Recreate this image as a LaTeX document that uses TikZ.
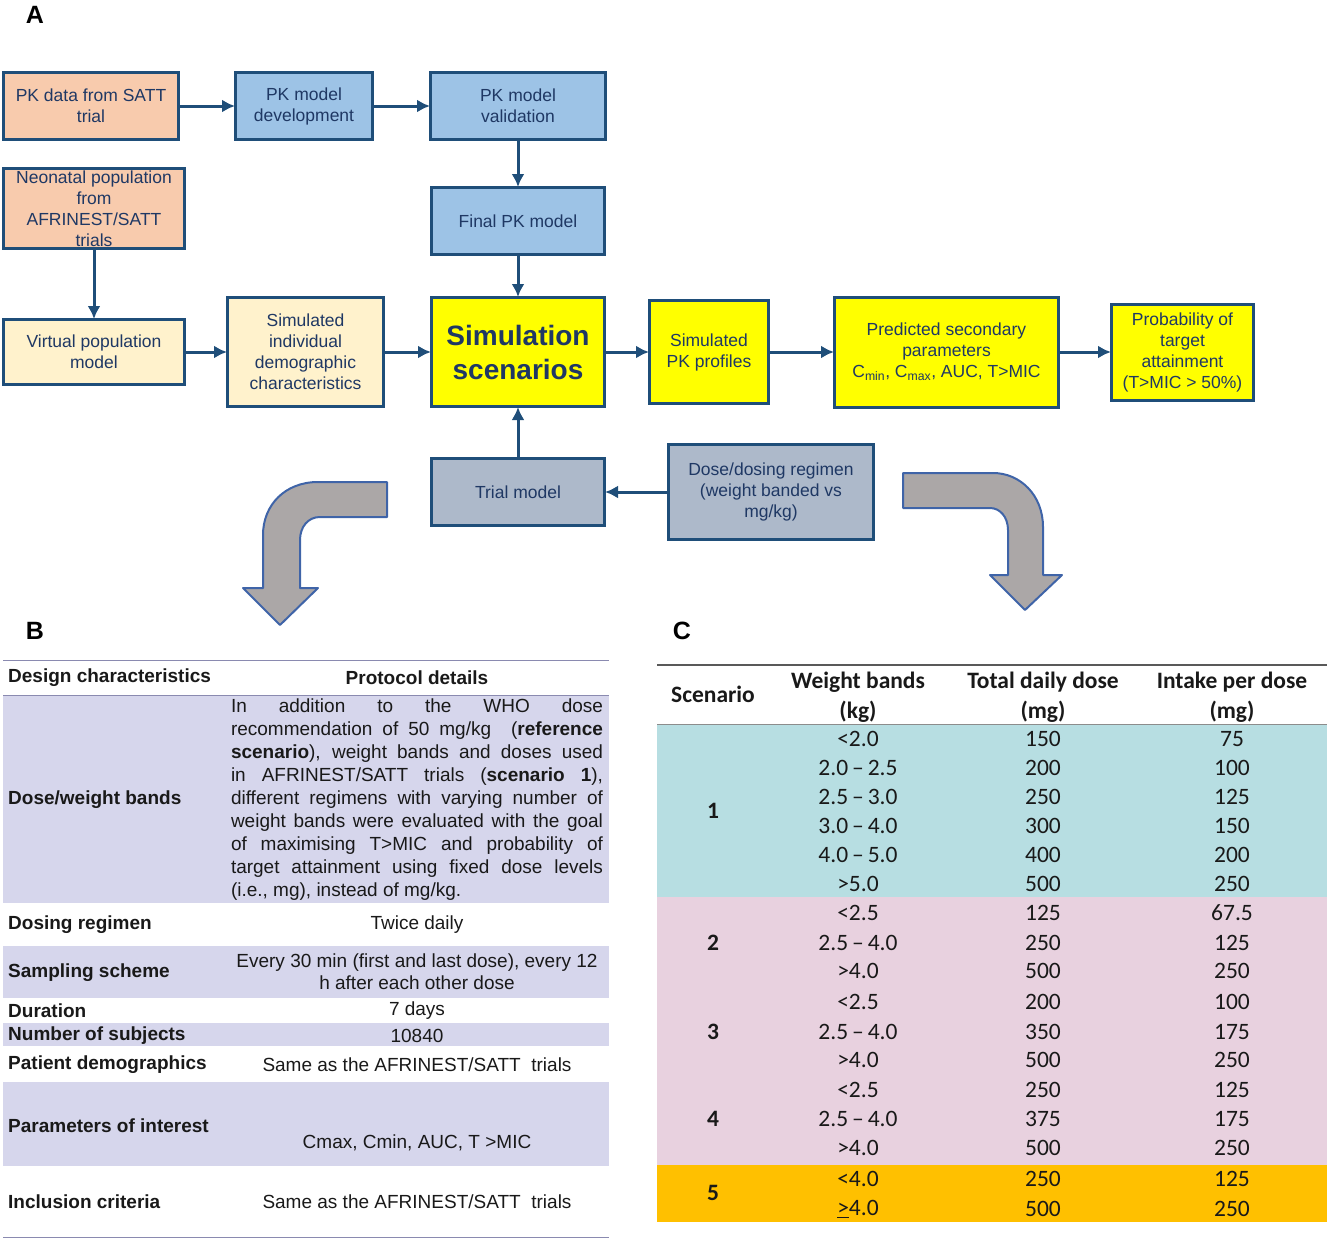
\documentclass[tikz,border=0pt]{standalone}
\usepackage{fontspec}
\setmainfont{Liberation Sans}
\newfontfamily\calfont{Carlito}
\usetikzlibrary{arrows.meta}

\definecolor{boxline}{HTML}{1F4E79}
\definecolor{boxtext}{HTML}{1F3864}
\definecolor{pkorange}{HTML}{F8CBAD}
\definecolor{pkblue}{HTML}{9DC3E6}
\definecolor{popcream}{HTML}{FFF2CC}
\definecolor{simyellow}{HTML}{FFFF00}
\definecolor{trialgrey}{HTML}{ADB9CA}
\definecolor{bendgrey}{HTML}{ABA7A7}
\definecolor{bendline}{HTML}{3F64A8}
\definecolor{rowlav}{HTML}{D6D6EC}
\definecolor{rulelav}{HTML}{8A8AB0}
\definecolor{rowteal}{HTML}{B7DEE2}
\definecolor{rowpink}{HTML}{E8D1DF}
\definecolor{rowgold}{HTML}{FFC000}

\begin{document}
\begin{tikzpicture}[x=1pt,y=-1pt]
        \tikzset{box/.style = {shape=rectangle,draw=boxline,line width=3pt,text=boxtext,align=center,inner sep=0pt,font=\fontsize{17.5}{21}\selectfont}};
        \tikzset{edge/.style = {-{Latex[length=13pt,width=13pt]},draw=boxline,line width=3pt,shorten >=-1pt}};
        \tikzset{bendarrow/.style = {fill=bendgrey,draw=bendline,line width=2pt,line join=round}};
        \tikzset{panel/.style = {inner sep=0pt,font=\fontsize{25}{25}\selectfont\bfseries}};
        \tikzset{tabB/.style = {inner sep=0pt,text=black!90,font=\fontsize{19}{23}\selectfont}};
        \tikzset{tabBhead/.style = {tabB,font=\fontsize{19}{23}\selectfont\bfseries}};
        \tikzset{tabC/.style = {inner sep=0pt,text=black!90,align=center,font=\calfont\fontsize{23.5}{30}\selectfont}};
        \tikzset{tabChead/.style = {tabC,font=\calfont\fontsize{23.5}{30}\selectfont\bfseries}};
        \useasboundingbox (0,0) rectangle (1331,1239);
        \node[panel] (labA) at (35,15) {A};
        \node[panel] (labB) at (35,631) {B};
        \node[panel] (labC) at (682,631) {C};
        \node[box,fill=pkorange,minimum width=175pt,minimum height=66pt] (pkdata) at (91,106) {PK data from SATT\\trial};
        \node[box,fill=pkblue,minimum width=137pt,minimum height=66pt] (pkdev) at (304,106) {PK model\\development};
        \node[box,fill=pkblue,minimum width=175pt,minimum height=66pt] (pkval) at (518,106) {PK model\\validation};
        \node[box,fill=pkorange,minimum width=181pt,minimum height=80pt] (neo) at (94,208.5) {Neonatal population\\from\\AFRINEST/SATT\\trials};
        \node[box,fill=pkblue,minimum width=173pt,minimum height=67pt] (final) at (518,221) {Final PK model};
        \node[box,fill=popcream,minimum width=181pt,minimum height=65pt] (virt) at (94,352) {Virtual population\\model};
        \node[box,fill=popcream,minimum width=156pt,minimum height=109pt] (simind) at (305.5,352) {Simulated\\individual\\demographic\\characteristics};
        \node[box,fill=simyellow,minimum width=173pt,minimum height=109pt,font=\fontsize{28}{34}\selectfont\bfseries] (simscen) at (518,352) {Simulation\\scenarios};
        \node[box,fill=simyellow,minimum width=119pt,minimum height=103pt] (simpk) at (709,352) {Simulated\\PK profiles};
        \node[box,fill=simyellow,minimum width=224pt,minimum height=110pt] (pred) at (946.5,352) {Predicted secondary\\parameters\\C\textsubscript{min}, C\textsubscript{max}, AUC, T>MIC};
        \node[box,fill=simyellow,minimum width=142pt,minimum height=96pt] (prob) at (1182.5,352) {Probability of\\target\\attainment\\(T>MIC > 50\%)};
        \node[box,fill=trialgrey,minimum width=173pt,minimum height=67pt] (trial) at (518,492) {Trial model};
        \node[box,fill=trialgrey,minimum width=205pt,minimum height=95pt] (dose) at (771,492) {Dose/dosing regimen\\(weight banded vs\\mg/kg)};
        \draw[edge] (pkdata) to (pkdev);
        \draw[edge] (pkdev) to (pkval);
        \draw[edge] (pkval) to (final);
        \draw[edge] (neo) to (virt);
        \draw[edge] (virt) to (simind);
        \draw[edge] (simind) to (simscen);
        \draw[edge] (final) to (simscen);
        \draw[edge] (trial) to (simscen);
        \draw[edge] (dose) to (trial);
        \draw[edge] (simscen) to (simpk);
        \draw[edge] (simpk) to (pred);
        \draw[edge] (pred) to (prob);
        \draw[bendarrow] (387,482) -- (318,482) .. controls (285,482) and (263,505) .. (263,535) -- (263,588) -- (243,588) -- (280,625) -- (318,588) -- (300,588) -- (300,540) .. controls (300,527) and (308,517) .. (320,517) -- (387,517) -- cycle;
        \draw[bendarrow] (903,473) -- (993,473) .. controls (1020,473) and (1043,495) .. (1043,527) -- (1043,575) -- (1062,575) -- (1025,610) -- (990,575) -- (1008,575) -- (1008,530) .. controls (1008,517) and (1000,508) .. (990,508) -- (903,508) -- cycle;
        \fill[rowlav] (3,696) rectangle (609,903);
        \fill[rowlav] (3,946) rectangle (609,998);
        \fill[rowlav] (3,1023) rectangle (609,1046);
        \fill[rowlav] (3,1082) rectangle (609,1166);
        \draw[rulelav,line width=1pt] (3,660) -- (609,660);
        \draw[rulelav,line width=1pt] (3,695.5) -- (609,695.5);
        \draw[rulelav,line width=1pt] (3,1237) -- (609,1237);
        \node[tabBhead,anchor=west] (hdesign) at (8,678) {Design characteristics};
        \node[tabBhead] (hproto) at (417,678) {Protocol details};
        \node[tabBhead,anchor=west] (ldose) at (8,800) {Dose/weight bands};
        \node[tabBhead,anchor=west] (lregimen) at (8,925) {Dosing regimen};
        \node[tabBhead,anchor=west] (lsampling) at (8,973) {Sampling scheme};
        \node[tabBhead,anchor=west] (lduration) at (8,1011) {Duration};
        \node[tabBhead,anchor=west] (lsubjects) at (8,1036) {Number of subjects};
        \node[tabBhead,anchor=west] (ldemo) at (8,1065) {Patient demographics};
        \node[tabBhead,anchor=west] (lparams) at (8,1126) {Parameters of interest};
        \node[tabBhead,anchor=west] (lincl) at (8,1202) {Inclusion criteria};
        \node[tabB,align=left] (rdose) at (417,800) {\makebox[372pt][s]{In addition to the WHO dose}\\
          \makebox[372pt][s]{recommendation of 50 mg/kg \ (\textbf{reference}}\\
          \makebox[372pt][s]{\textbf{scenario}), weight bands and doses used}\\
          \makebox[372pt][s]{in AFRINEST/SATT trials (\textbf{scenario 1}),}\\
          \makebox[372pt][s]{different regimens with varying number of}\\
          \makebox[372pt][s]{weight bands were evaluated with the goal}\\
          \makebox[372pt][s]{of maximising T>MIC and probability of}\\
          \makebox[372pt][s]{target attainment using fixed dose levels}\\
          \makebox[372pt][l]{(i.e., mg), instead of mg/kg.}};
        \node[tabB] (rregimen) at (417,925) {Twice daily};
        \node[tabB,align=center,font=\fontsize{19}{22}\selectfont] (rsampling) at (417,972) {Every 30 min (first and last dose), every 12\\h after each other dose};
        \node[tabB] (rduration) at (417,1011) {7 days};
        \node[tabB] (rsubjects) at (417,1036) {10840};
        \node[tabB] (rdemo) at (417,1065) {Same as the AFRINEST/SATT\ \ trials};
        \node[tabB] (rparams) at (417,1143) {Cmax, Cmin, AUC, T >MIC};
        \node[tabB] (rincl) at (417,1202) {Same as the AFRINEST/SATT\ \ trials};
        \fill[rowteal] (657,725) rectangle (1327,897);
        \fill[rowpink] (657,897) rectangle (1327,1165);
        \fill[rowgold] (657,1165) rectangle (1327,1222);
        \draw[black!65,line width=1.5pt] (657,665) -- (1327,665);
        \draw[black!45,line width=1pt] (657,724) -- (1327,724);
        \node[tabChead] (hscen) at (713,694) {Scenario};
        \node[tabChead] (hweight) at (858,697.5) {Weight bands\\(kg)};
        \node[tabChead] (htotal) at (1043,697.5) {Total daily dose\\(mg)};
        \node[tabChead] (hintake) at (1232,697.5) {Intake per dose\\(mg)};
        \foreach \s/\y in {1/811,2/943,3/1032,4/1119,5/1193}
          \node[tabChead] (s\s) at (713,\y) {\s};
        \foreach \y/\wt/\tot/\per [count=\r] in {739/<2.0/150/75, 768/2.0\,\textendash\,2.5/200/100, 797/2.5\,\textendash\,3.0/250/125, 826/3.0\,\textendash\,4.0/300/150, 855/4.0\,\textendash\,5.0/400/200, 884/>5.0/500/250, 913/<2.5/125/67.5, 943/2.5\,\textendash\,4.0/250/125, 971/>4.0/500/250, 1002/<2.5/200/100, 1032/2.5\,\textendash\,4.0/350/175, 1060/>4.0/500/250, 1090/<2.5/250/125, 1119/2.5\,\textendash\,4.0/375/175, 1148/>4.0/500/250, 1179/<4.0/250/125, 1209/\underline{>}4.0/500/250}
        {
          \node[tabC] (w\r) at (858,\y) {\wt};
          \node[tabC] (t\r) at (1043,\y) {\tot};
          \node[tabC] (p\r) at (1232,\y) {\per};
        }
    \end{tikzpicture}
\end{document}
